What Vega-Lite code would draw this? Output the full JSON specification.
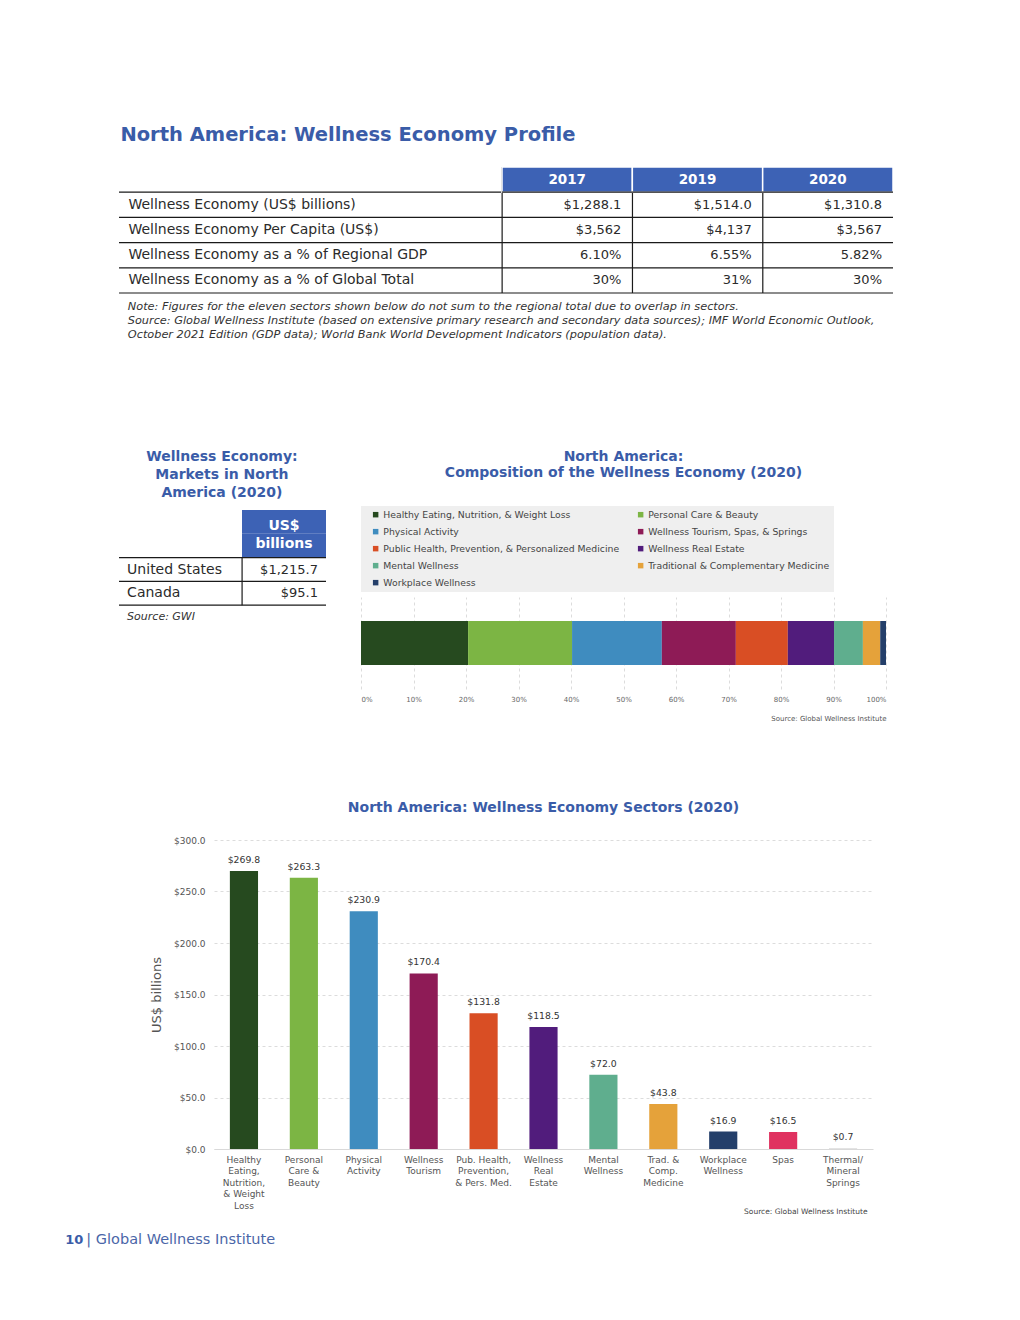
{
  "$schema": "https://vega.github.io/schema/vega-lite/v6.json",
  "padding": 0,
  "background": "white",
  "bounds": "full",
  "spacing": 0,
  "resolve": {"scale": {"color": "independent"}, "legend": {"color": "independent"}},
  "config": {"view": {"stroke": null}, "font": "DejaVu Sans"},
  "datasets": {
    "t1rows": [
      {"row": "hdr", "c": "L", "label": ""},
      {"row": "r1", "c": "L", "label": "Wellness Economy (US$ billions)"},
      {"row": "r2", "c": "L", "label": "Wellness Economy Per Capita (US$)"},
      {"row": "r3", "c": "L", "label": "Wellness Economy as a % of Regional GDP"},
      {"row": "r4", "c": "L", "label": "Wellness Economy as a % of Global Total"}
    ],
    "t1cells": [
      {"row": "hdr", "year": "2017", "v": "2017"},
      {"row": "hdr", "year": "2019", "v": "2019"},
      {"row": "hdr", "year": "2020", "v": "2020"},
      {"row": "r1", "year": "2017", "v": "$1,288.1"},
      {"row": "r1", "year": "2019", "v": "$1,514.0"},
      {"row": "r1", "year": "2020", "v": "$1,310.8"},
      {"row": "r2", "year": "2017", "v": "$3,562"},
      {"row": "r2", "year": "2019", "v": "$4,137"},
      {"row": "r2", "year": "2020", "v": "$3,567"},
      {"row": "r3", "year": "2017", "v": "6.10%"},
      {"row": "r3", "year": "2019", "v": "6.55%"},
      {"row": "r3", "year": "2020", "v": "5.82%"},
      {"row": "r4", "year": "2017", "v": "30%"},
      {"row": "r4", "year": "2019", "v": "31%"},
      {"row": "r4", "year": "2020", "v": "30%"}
    ],
    "notes": [
      {"n": "n1", "c": "L", "t": "Note: Figures for the eleven sectors shown below do not sum to the regional total due to overlap in sectors."},
      {"n": "n2", "c": "L", "t": "Source: Global Wellness Institute (based on extensive primary research and secondary data sources); IMF World Economic Outlook,"},
      {"n": "n3", "c": "L", "t": "October 2021 Edition (GDP data); World Bank World Development Indicators (population data)."}
    ],
    "smallrows": [
      {"row": "h1", "c": "L", "label": "", "v": "US$\nbillions"},
      {"row": "h2", "c": "L", "label": "", "v": ""},
      {"row": "us", "c": "L", "label": "United States", "v": "$1,215.7"},
      {"row": "ca", "c": "L", "label": "Canada", "v": "$95.1"},
      {"row": "src", "c": "L", "label": "Source: GWI", "v": ""}
    ],
    "comp": [
      {"region": "North America", "sector": "Healthy Eating, Nutrition, & Weight Loss", "share": 20.4},
      {"region": "North America", "sector": "Personal Care & Beauty", "share": 19.8},
      {"region": "North America", "sector": "Physical Activity", "share": 17.1},
      {"region": "North America", "sector": "Wellness Tourism, Spas, & Springs", "share": 14.1},
      {"region": "North America", "sector": "Public Health, Prevention, & Personalized Medicine", "share": 9.9},
      {"region": "North America", "sector": "Wellness Real Estate", "share": 8.8},
      {"region": "North America", "sector": "Mental Wellness", "share": 5.5},
      {"region": "North America", "sector": "Traditional & Complementary Medicine", "share": 3.3},
      {"region": "North America", "sector": "Workplace Wellness", "share": 1.1}
    ],
    "sectors": [
      {"sector": "Healthy|Eating,|Nutrition,|& Weight|Loss", "value": 269.8},
      {"sector": "Personal|Care &|Beauty", "value": 263.3},
      {"sector": "Physical|Activity", "value": 230.9},
      {"sector": "Wellness|Tourism", "value": 170.4},
      {"sector": "Pub. Health,|Prevention,|& Pers. Med.", "value": 131.8},
      {"sector": "Wellness|Real|Estate", "value": 118.5},
      {"sector": "Mental|Wellness", "value": 72.0},
      {"sector": "Trad. &|Comp.|Medicine", "value": 43.8},
      {"sector": "Workplace|Wellness", "value": 16.9},
      {"sector": "Spas", "value": 16.5},
      {"sector": "Thermal/|Mineral|Springs", "value": 0.7}
    ],
    "footer": [
      {"c": "F", "a": "10", "b": "|  Global Wellness Institute"}
    ]
  },
  "vconcat": [
    {"data": {"values": []}, "mark": "point", "width": 1020, "height": 124},
    {
      "hconcat": [
        {"data": {"values": []}, "mark": "point", "width": 119, "height": 126},
        {
          "data": {"name": "t1rows"},
          "width": 383,
          "height": 126,
          "title": {"text": "North America: Wellness Economy Profile", "anchor": "start", "dx": 2, "fontSize": 19.5, "fontWeight": "bold", "color": "#3a5ca8", "offset": 22},
          "layer": [
            {
              "mark": {"type": "rule", "color": "#1a1a1a", "strokeWidth": 1.2},
              "encoding": {"y": {"field": "row", "type": "nominal", "bandPosition": 1, "scale": {"type": "band", "domain": ["hdr", "r1", "r2", "r3", "r4"], "paddingInner": 0, "paddingOuter": 0}, "axis": null}}
            },
            {
              "transform": [{"filter": "datum.row !== 'hdr'"}],
              "mark": {"type": "text", "align": "left", "dx": 9, "fontSize": 14, "color": "#2b2b2b"},
              "encoding": {
                "x": {"field": "c", "type": "nominal", "bandPosition": 0.001, "scale": {"type": "band", "paddingInner": 0, "paddingOuter": 0}, "axis": null},
                "y": {"field": "row", "type": "nominal", "axis": null},
                "text": {"field": "label"}
              }
            }
          ]
        },
        {
          "data": {"name": "t1cells"},
          "width": 391,
          "height": 126,
          "layer": [
            {
              "transform": [{"filter": "datum.row === 'hdr'"}],
              "mark": {"type": "rule", "color": "#1a1a1a", "strokeWidth": 1.2},
              "encoding": {"x": {"field": "year", "type": "nominal", "bandPosition": 0.001, "scale": {"type": "band", "paddingInner": 0, "paddingOuter": 0}, "axis": null}}
            },
            {
              "transform": [{"filter": "datum.row === 'hdr'"}],
              "mark": {"type": "rect", "fill": "#3d62b5", "stroke": "white", "strokeWidth": 1.5},
              "encoding": {
                "x": {"field": "year", "type": "nominal", "axis": null},
                "y": {"field": "row", "type": "nominal", "scale": {"type": "band", "domain": ["hdr", "r1", "r2", "r3", "r4"], "paddingInner": 0, "paddingOuter": 0}, "axis": null}
              }
            },
            {
              "data": {"name": "t1rows"},
              "mark": {"type": "rule", "color": "#1a1a1a", "strokeWidth": 1.2},
              "encoding": {"y": {"field": "row", "type": "nominal", "bandPosition": 1, "axis": null}}
            },
            {
              "transform": [{"filter": "datum.row === 'hdr'"}],
              "mark": {"type": "text", "fontSize": 13.5, "fontWeight": "bold", "color": "white"},
              "encoding": {
                "x": {"field": "year", "type": "nominal", "axis": null},
                "y": {"field": "row", "type": "nominal", "axis": null},
                "text": {"field": "v"}
              }
            },
            {
              "transform": [{"filter": "datum.row !== 'hdr'"}],
              "mark": {"type": "text", "align": "right", "dx": -11, "fontSize": 13, "color": "#2b2b2b"},
              "encoding": {
                "x": {"field": "year", "type": "nominal", "bandPosition": 1, "axis": null},
                "y": {"field": "row", "type": "nominal", "axis": null},
                "text": {"field": "v"}
              }
            }
          ]
        }
      ],
      "spacing": 0,
      "bounds": "flush"
    },
    {"data": {"values": []}, "mark": "point", "width": 1, "height": 6},
    {
      "hconcat": [
        {"data": {"values": []}, "mark": "point", "width": 119, "height": 42},
        {
          "data": {"name": "notes"},
          "width": 774,
          "height": 42,
          "mark": {"type": "text", "align": "left", "dx": 8, "fontSize": 11.3, "fontStyle": "italic", "color": "#333"},
          "encoding": {
            "x": {"field": "c", "type": "nominal", "bandPosition": 0.001, "scale": {"type": "band", "paddingInner": 0, "paddingOuter": 0}, "axis": null},
            "y": {"field": "n", "type": "nominal", "scale": {"type": "band", "paddingInner": 0, "paddingOuter": 0}, "axis": null},
            "text": {"field": "t"}
          }
        }
      ],
      "spacing": 0,
      "bounds": "flush"
    },
    {"data": {"values": []}, "mark": "point", "width": 1, "height": 108},
    {
      "hconcat": [
        {"data": {"values": []}, "mark": "point", "width": 119, "height": 119},
        {
          "data": {"name": "smallrows"},
          "width": 123,
          "height": 119,
          "title": {"text": ["Wellness Economy:", "Markets in North", "America (2020)"], "anchor": "start", "align": "center", "dx": 103.5, "fontSize": 14, "fontWeight": "bold", "color": "#3a5ca8", "lineHeight": 18, "offset": 10},
          "layer": [
            {
              "transform": [{"filter": "indexof(['h2','us','ca'], datum.row) >= 0"}],
              "mark": {"type": "rule", "color": "#1a1a1a", "strokeWidth": 1.2},
              "encoding": {"y": {"field": "row", "type": "nominal", "bandPosition": 1, "scale": {"type": "band", "domain": ["h1", "h2", "us", "ca", "src"], "paddingInner": 0, "paddingOuter": 0}, "axis": null}}
            },
            {
              "transform": [{"filter": "indexof(['us','ca'], datum.row) >= 0"}],
              "mark": {"type": "text", "align": "left", "dx": 8, "fontSize": 14, "color": "#2b2b2b"},
              "encoding": {
                "x": {"field": "c", "type": "nominal", "bandPosition": 0.001, "scale": {"type": "band", "paddingInner": 0, "paddingOuter": 0}, "axis": null},
                "y": {"field": "row", "type": "nominal", "axis": null},
                "text": {"field": "label"}
              }
            },
            {
              "transform": [{"filter": "datum.row === 'src'"}],
              "mark": {"type": "text", "align": "left", "dx": 8, "fontSize": 11, "fontStyle": "italic", "color": "#333"},
              "encoding": {
                "x": {"field": "c", "type": "nominal", "bandPosition": 0.001, "axis": null},
                "y": {"field": "row", "type": "nominal", "axis": null},
                "text": {"field": "label"}
              }
            }
          ]
        },
        {
          "data": {"name": "smallrows"},
          "width": 84,
          "height": 119,
          "layer": [
            {
              "transform": [{"filter": "indexof(['h1','h2'], datum.row) >= 0"}],
              "mark": {"type": "rect", "fill": "#3d62b5"},
              "encoding": {
                "x": {"field": "c", "type": "nominal", "scale": {"type": "band", "paddingInner": 0, "paddingOuter": 0}, "axis": null},
                "y": {"field": "row", "type": "nominal", "scale": {"type": "band", "domain": ["h1", "h2", "us", "ca", "src"], "paddingInner": 0, "paddingOuter": 0}, "axis": null}
              }
            },
            {
              "transform": [{"filter": "indexof(['us','ca'], datum.row) >= 0"}],
              "mark": {"type": "tick", "orient": "vertical", "size": 24, "thickness": 1.2, "color": "#1a1a1a", "opacity": 1},
              "encoding": {
                "x": {"field": "c", "type": "nominal", "bandPosition": 0.001, "axis": null},
                "y": {"field": "row", "type": "nominal", "axis": null}
              }
            },
            {
              "transform": [{"filter": "indexof(['h2','us','ca'], datum.row) >= 0"}],
              "mark": {"type": "rule", "color": "#1a1a1a", "strokeWidth": 1.2},
              "encoding": {"y": {"field": "row", "type": "nominal", "bandPosition": 1, "axis": null}}
            },
            {
              "transform": [{"filter": "datum.row === 'h1'"}],
              "mark": {"type": "text", "fontSize": 14, "fontWeight": "bold", "color": "white", "lineBreak": "\n", "lineHeight": 18, "baseline": "middle", "dy": 4},
              "encoding": {
                "x": {"field": "c", "type": "nominal", "axis": null},
                "y": {"field": "row", "type": "nominal", "axis": null},
                "text": {"field": "v"}
              }
            },
            {
              "transform": [{"filter": "indexof(['us','ca'], datum.row) >= 0"}],
              "mark": {"type": "text", "align": "right", "dx": -8, "fontSize": 13, "color": "#2b2b2b"},
              "encoding": {
                "x": {"field": "c", "type": "nominal", "bandPosition": 1, "axis": null},
                "y": {"field": "row", "type": "nominal", "axis": null},
                "text": {"field": "v"}
              }
            }
          ]
        },
        {"data": {"values": []}, "mark": "point", "width": 35, "height": 119},
        {
          "vconcat": [
            {"data": {"values": []}, "mark": "point", "width": 525, "height": 87},
            {
              "data": {"name": "comp"},
              "width": 525,
              "height": 92,
              "title": {"text": ["North America:", "Composition of the Wellness Economy (2020)"], "fontSize": 14, "fontWeight": "bold", "color": "#3a5ca8", "lineHeight": 16, "offset": 26, "anchor": "middle"},
              "mark": {"type": "bar"},
              "encoding": {
                "x": {
                  "field": "share", "type": "quantitative", "stack": "normalize",
                  "axis": {"values": [0, 0.1, 0.2, 0.3, 0.4, 0.5, 0.6, 0.7, 0.8, 0.9, 1], "format": ".0%", "grid": true, "gridDash": [3, 3], "gridColor": "#dcdcdc", "domain": false, "ticks": false, "labelFontSize": 7, "labelColor": "#666", "labelPadding": 6, "title": "Source: Global Wellness Institute", "titleAnchor": "end", "titleFontSize": 7, "titleFontWeight": "normal", "titleColor": "#555", "titlePadding": 12}
                },
                "y": {"field": "region", "type": "nominal", "axis": null, "scale": {"paddingInner": 0, "paddingOuter": 0.545}},
                "color": {
                  "field": "sector", "type": "nominal",
                  "scale": {
                    "domain": ["Healthy Eating, Nutrition, & Weight Loss", "Personal Care & Beauty", "Physical Activity", "Wellness Tourism, Spas, & Springs", "Public Health, Prevention, & Personalized Medicine", "Wellness Real Estate", "Mental Wellness", "Traditional & Complementary Medicine", "Workplace Wellness"],
                    "range": ["#264a1f", "#7cb544", "#3f8cbf", "#8e1b56", "#d94e24", "#511c7c", "#5fae8e", "#e5a23a", "#243f6a"]
                  },
                  "legend": {"orient": "top", "columns": 2, "title": null, "fillColor": "#efefef", "padding": 4, "symbolOffset": 6, "symbolType": "square", "symbolSize": 30, "labelFontSize": 9.3, "labelColor": "#444", "rowPadding": 7, "columnPadding": 10, "gridAlign": "each", "labelLimit": 400, "labelOffset": 3, "offset": 5, "labelExpr": "datum.label === 'Traditional & Complementary Medicine' ? datum.label + '\u00a0\u00a0\u00a0\u00a0\u00a0\u00a0\u00a0\u00a0\u00a0\u00a0\u00a0\u00a0\u00a0\u00a0\u00a0\u00a0\u00a0\u00a0\u00a0' : datum.label"}
                },
                "order": {"field": "share", "sort": "descending"}
              }
            }
          ],
          "spacing": 0,
          "bounds": "flush",
          "resolve": {"scale": {"color": "independent"}, "legend": {"color": "independent"}}
        }
      ],
      "spacing": 0,
      "bounds": "flush",
      "resolve": {"scale": {"color": "independent"}, "legend": {"color": "independent"}}
    },
    {"data": {"values": []}, "mark": "point", "width": 1, "height": 80},
    {
      "hconcat": [
        {"data": {"values": []}, "mark": "point", "width": 214, "height": 309},
        {
          "data": {"name": "sectors"},
          "width": 659,
          "height": 309,
          "title": {"text": "North America: Wellness Economy Sectors (2020)", "fontSize": 14, "fontWeight": "bold", "color": "#3a5ca8", "offset": 21, "anchor": "middle"},
          "encoding": {
            "x": {
              "field": "sector", "type": "nominal", "sort": null,
              "scale": {"paddingInner": 0.53, "paddingOuter": 0.265},
              "axis": {"labelExpr": "split(datum.label, '|')", "labelAngle": 0, "labelFontSize": 9, "labelColor": "#555", "labelLineHeight": 11.5, "labelPadding": 6, "ticks": false, "domainColor": "#d9d9d9", "title": "Source: Global Wellness Institute", "titleFontSize": 7.5, "titleFontWeight": "normal", "titleColor": "#444", "titleAlign": "right", "titleX": 653, "titleY": 62, "titleBaseline": "middle"}
            },
            "y": {
              "field": "value", "type": "quantitative",
              "scale": {"domain": [0, 300]},
              "axis": {"values": [0, 50, 100, 150, 200, 250, 300], "format": "$,.1f", "grid": true, "gridDash": [3, 3], "gridColor": "#dcdcdc", "domain": false, "ticks": false, "labelFontSize": 9, "labelColor": "#555", "labelPadding": 9, "title": "US$ billions", "titleFontSize": 13, "titleFontWeight": "normal", "titleColor": "#555", "titlePadding": 10}
            }
          },
          "layer": [
            {
              "mark": {"type": "bar"},
              "encoding": {
                "color": {
                  "field": "sector", "type": "nominal", "legend": null,
                  "scale": {
                    "domain": ["Healthy|Eating,|Nutrition,|& Weight|Loss", "Personal|Care &|Beauty", "Physical|Activity", "Wellness|Tourism", "Pub. Health,|Prevention,|& Pers. Med.", "Wellness|Real|Estate", "Mental|Wellness", "Trad. &|Comp.|Medicine", "Workplace|Wellness", "Spas", "Thermal/|Mineral|Springs"],
                    "range": ["#264a1f", "#7cb544", "#3f8cbf", "#8e1b56", "#d94e24", "#511c7c", "#5fae8e", "#e5a23a", "#243f6a", "#e03260", "#d8d8d8"]
                  }
                }
              }
            },
            {
              "mark": {"type": "text", "dy": -11, "fontSize": 9.3, "color": "#333", "baseline": "middle"},
              "encoding": {"text": {"field": "value", "type": "quantitative", "format": "$.1f"}}
            }
          ]
        }
      ],
      "spacing": 0,
      "bounds": "flush"
    },
    {"data": {"values": []}, "mark": "point", "width": 1, "height": 17},
    {
      "hconcat": [
        {"data": {"values": []}, "mark": "point", "width": 65, "height": 16},
        {
          "data": {"name": "footer"},
          "width": 300,
          "height": 16,
          "encoding": {"x": {"field": "c", "type": "nominal", "bandPosition": 0.001, "scale": {"type": "band", "paddingInner": 0, "paddingOuter": 0}, "axis": null}},
          "layer": [
            {"mark": {"type": "text", "align": "left", "fontSize": 13, "fontWeight": "bold", "color": "#3a5ca8"}, "encoding": {"text": {"field": "a"}}},
            {"mark": {"type": "text", "align": "left", "dx": 21, "fontSize": 14.5, "color": "#4a66a8"}, "encoding": {"text": {"field": "b"}}}
          ]
        }
      ],
      "spacing": 0,
      "bounds": "flush"
    }
  ]
}
